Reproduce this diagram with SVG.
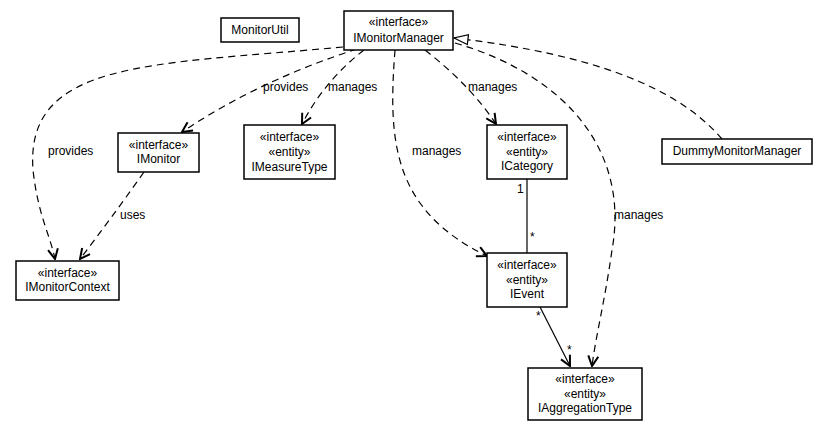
<svg xmlns="http://www.w3.org/2000/svg" width="828" height="432" viewBox="0 0 828 432">
<style>
.box{fill:#fff;stroke:#000;stroke-width:1.5}
text{font-family:"Liberation Sans",Arial,sans-serif;font-size:12px;fill:#000}
.c{text-anchor:middle}
.dash{fill:none;stroke:#000;stroke-width:1.2;stroke-dasharray:7,5}
.solid{fill:none;stroke:#000;stroke-width:1.2}
</style>
<defs>
<marker id="open" viewBox="0 0 12 12" refX="11" refY="6" markerWidth="12" markerHeight="12" markerUnits="userSpaceOnUse" orient="auto">
<path d="M1,1 L11,6 L1,11" fill="none" stroke="#000" stroke-width="2"/>
</marker>
<marker id="tri" viewBox="0 0 16 12" refX="15" refY="6" markerWidth="16" markerHeight="12" markerUnits="userSpaceOnUse" orient="auto">
<path d="M1,1 L15,6 L1,11 Z" fill="#fff" stroke="#000" stroke-width="1.2"/>
</marker>
</defs>
<rect width="828" height="432" fill="#fff"/>
<g id="connectors">
<path class="dash" d="M343,47 C150,65 25,60 33,170 C38,215 50,235 55,259" marker-end="url(#open)"/>
<text x="48" y="155">provides</text>
<path class="dash" d="M357,49 Q260,80 182,132" marker-end="url(#open)"/>
<text x="263" y="91">provides</text>
<path class="dash" d="M364,50 Q325,80 302,124" marker-end="url(#open)"/>
<text x="328" y="91">manages</text>
<path class="dash" d="M395,50 C388,140 392,210 487,256" marker-end="url(#open)"/>
<text x="412" y="155">manages</text>
<path class="dash" d="M425,50 Q470,85 496,124" marker-end="url(#open)"/>
<text x="468" y="91">manages</text>
<path class="dash" d="M455,43 C565,75 630,150 612,250 C605,300 596,335 592,366" marker-end="url(#open)"/>
<text x="614" y="219">manages</text>
<path class="dash" d="M722,139 C680,90 600,55 454,38" marker-end="url(#tri)"/>
<path class="dash" d="M144,172 Q110,220 80,259" marker-end="url(#open)"/>
<text x="120" y="219">uses</text>
<path class="solid" d="M527,179 L527,253"/>
<text x="517" y="193">1</text>
<text x="530" y="241">*</text>
<path class="solid" d="M540,307 L570,366" marker-end="url(#open)"/>
<text x="536" y="320">*</text>
<text x="567" y="354">*</text>
</g>
<g id="MonitorUtil">
<rect class="box" x="221" y="18" width="78" height="24"/>
<text class="c" x="260" y="34">MonitorUtil</text>
</g>
<g id="IMonitorManager">
<rect class="box" x="344" y="11" width="109" height="39"/>
<text class="c" x="398.5" y="26">«interface»</text>
<text class="c" x="398.5" y="42">IMonitorManager</text>
</g>
<g id="IMeasureType">
<rect class="box" x="244" y="125" width="91" height="54"/>
<text class="c" x="289.5" y="141">«interface»</text>
<text class="c" x="289.5" y="156">«entity»</text>
<text class="c" x="289.5" y="171">IMeasureType</text>
</g>
<g id="IMonitor">
<rect class="box" x="118" y="133" width="81" height="39"/>
<text class="c" x="158.5" y="149">«interface»</text>
<text class="c" x="158.5" y="163">IMonitor</text>
</g>
<g id="IMonitorContext">
<rect class="box" x="16" y="261" width="103" height="39"/>
<text class="c" x="67.5" y="277">«interface»</text>
<text class="c" x="67.5" y="291">IMonitorContext</text>
</g>
<g id="ICategory">
<rect class="box" x="487" y="125" width="80" height="54"/>
<text class="c" x="527" y="141">«interface»</text>
<text class="c" x="527" y="156">«entity»</text>
<text class="c" x="527" y="170">ICategory</text>
</g>
<g id="IEvent">
<rect class="box" x="487" y="253" width="80" height="54"/>
<text class="c" x="527" y="269">«interface»</text>
<text class="c" x="527" y="284">«entity»</text>
<text class="c" x="527" y="298">IEvent</text>
</g>
<g id="IAggregationType">
<rect class="box" x="528" y="368" width="114" height="52"/>
<text class="c" x="585" y="383">«interface»</text>
<text class="c" x="585" y="398">«entity»</text>
<text class="c" x="585" y="412">IAggregationType</text>
</g>
<g id="DummyMonitorManager">
<rect class="box" x="662" y="139" width="150" height="25"/>
<text class="c" x="737" y="155">DummyMonitorManager</text>
</g>
</svg>
